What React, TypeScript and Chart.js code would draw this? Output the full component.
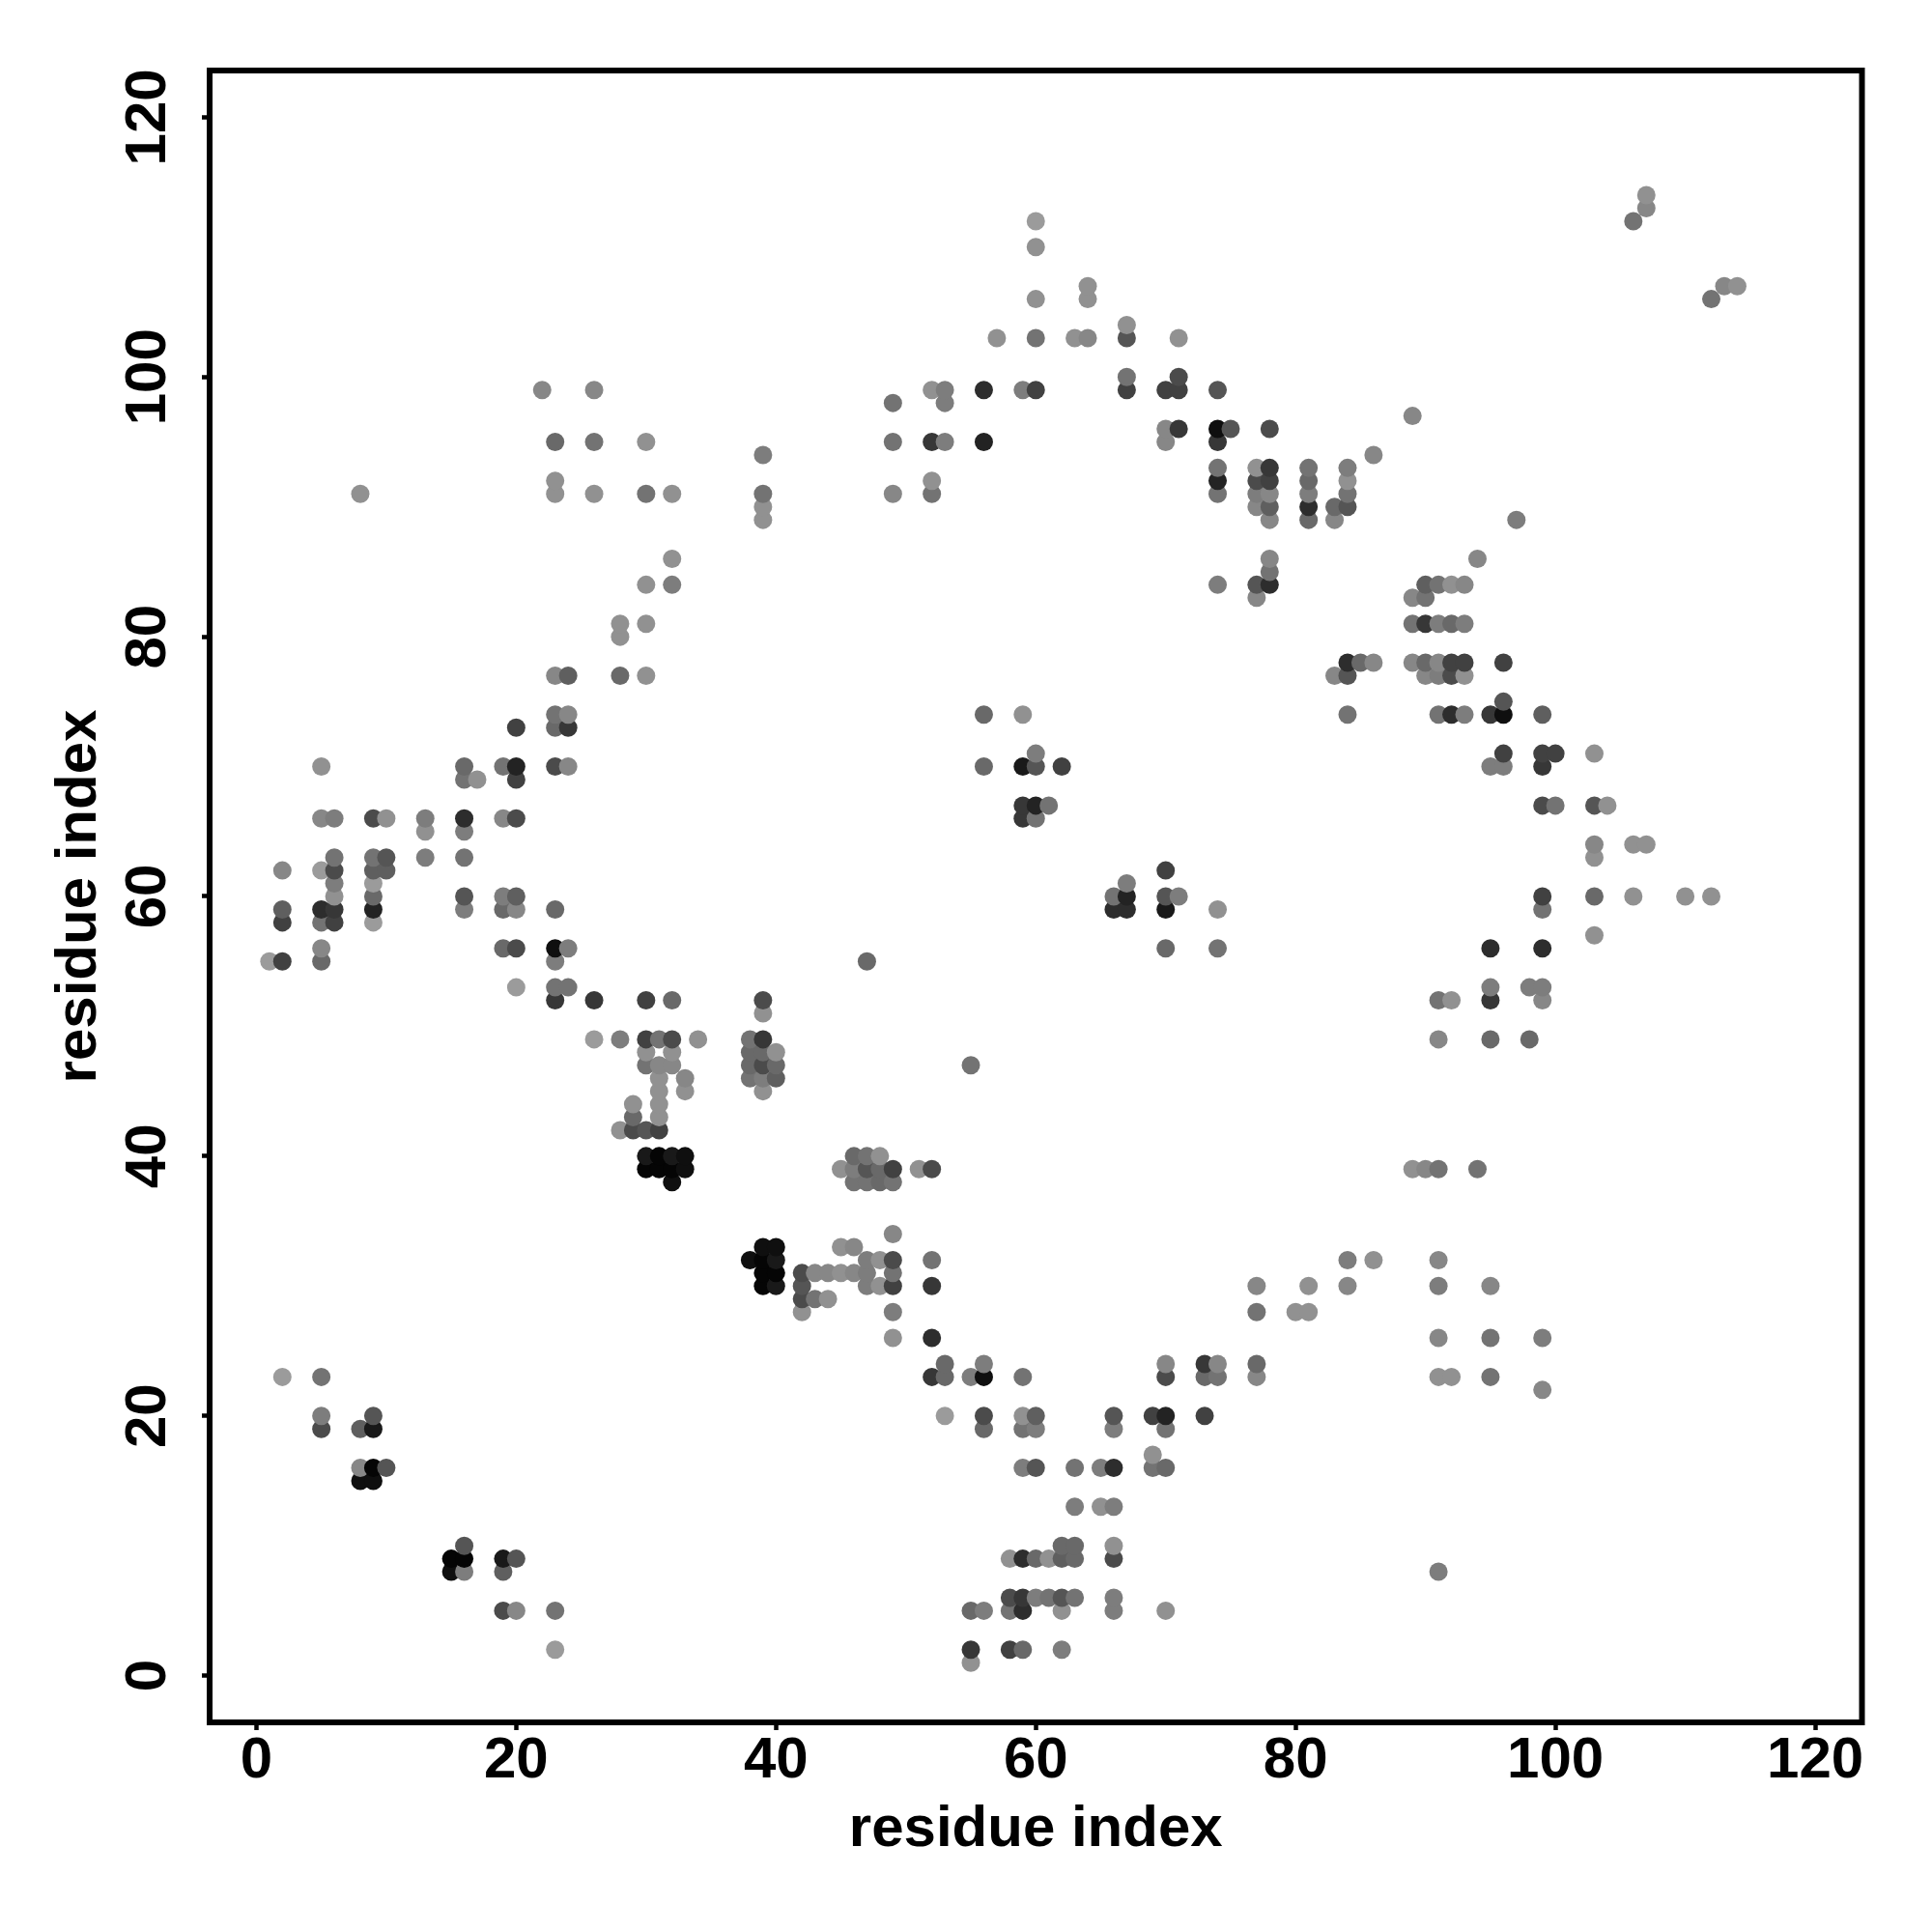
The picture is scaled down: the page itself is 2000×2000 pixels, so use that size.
import React, { useEffect, useRef } from "react";
import { Chart, registerables } from "chart.js";

Chart.register(...registerables);

// Each contact is [residue i, residue j, shade]; shade runs from 0 (black) to 15 (lightest grey).
type Contact = [number, number, number];

const contacts0to19: Contact[] = [
  [1,55,15],
  [2,23,15],[2,55,6],[2,58,6],[2,59,9],[2,62,13],
  [5,19,7],[5,20,12],[5,23,11],[5,55,10],[5,56,13],[5,58,11],[5,59,4],[5,62,15],[5,66,13],[5,70,14],
  [6,58,6],[6,59,5],[6,60,14],[6,61,12],[6,62,7],[6,63,11],[6,66,12],
  [8,15,1],[8,16,13],[8,19,9],[8,91,14],
  [9,15,1],[9,16,0],[9,19,2],[9,20,8],[9,58,15],[9,59,3],[9,60,10],[9,61,15],[9,62,9],[9,63,11],[9,66,7],
  [10,16,8],[10,62,9],[10,63,8],[10,66,14],
  [13,63,12],[13,65,14],[13,66,12],
  [15,8,1],[15,9,0],
  [16,8,12],[16,9,0],[16,10,8],[16,59,12],[16,60,8],[16,63,11],[16,65,12],[16,66,4],[16,69,11],[16,70,10],
  [17,69,14],
  [19,5,7],[19,8,9],[19,9,2],[19,56,10],[19,59,10],[19,60,12],[19,66,13],[19,70,11],
];

const contacts20to39: Contact[] = [
  [20,5,13],[20,9,8],[20,53,15],[20,56,7],[20,59,13],[20,60,9],[20,66,7],[20,69,6],[20,70,3],[20,73,6],
  [22,99,13],
  [23,2,15],[23,5,11],[23,52,5],[23,53,11],[23,55,12],[23,56,1],[23,59,10],[23,70,7],[23,73,10],[23,74,11],[23,77,13],[23,91,14],[23,92,14],[23,95,10],
  [24,53,11],[24,56,12],[24,70,13],[24,73,5],[24,74,13],[24,77,9],
  [26,49,15],[26,52,5],[26,91,14],[26,95,11],[26,99,13],
  [28,42,14],[28,49,12],[28,77,10],[28,80,14],[28,81,14],
  [29,42,7],[29,43,10],[29,44,14],
  [30,39,0],[30,40,2],[30,42,8],[30,47,11],[30,48,14],[30,49,6],[30,52,6],[30,77,14],[30,81,14],[30,84,14],[30,91,11],[30,95,14],
  [31,39,0],[31,40,0],[31,42,6],[31,43,14],[31,44,14],[31,45,14],[31,46,14],[31,47,13],[31,49,11],
  [32,38,1],[32,39,0],[32,40,2],[32,47,13],[32,48,14],[32,49,7],[32,52,10],[32,84,12],[32,86,14],[32,91,14],
  [33,39,1],[33,40,1],[33,45,14],[33,46,13],
  [34,49,14],
  [38,32,1],[38,46,11],[38,47,10],[38,48,10],[38,49,11],
  [39,30,0],[39,31,0],[39,32,0],[39,33,1],[39,45,14],[39,46,12],[39,47,7],[39,48,10],[39,49,5],[39,51,14],[39,52,7],[39,89,14],[39,90,14],[39,91,11],[39,94,12],
];

const contacts40to59: Contact[] = [
  [40,30,2],[40,31,0],[40,32,2],[40,33,1],[40,46,9],[40,47,10],[40,48,14],
  [42,28,14],[42,29,7],[42,30,8],[42,31,7],
  [43,29,11],[43,31,13],
  [44,29,14],[44,31,13],
  [45,31,14],[45,33,14],[45,39,14],
  [46,31,13],[46,33,13],[46,38,11],[46,39,12],[46,40,10],
  [47,30,12],[47,31,12],[47,32,12],[47,38,11],[47,39,8],[47,40,11],[47,55,10],
  [48,30,14],[48,32,14],[48,38,10],[48,39,10],[48,40,14],
  [49,26,14],[49,28,12],[49,30,6],[49,31,11],[49,32,7],[49,34,13],[49,38,11],[49,39,6],[49,91,13],[49,95,11],[49,98,11],
  [51,39,14],
  [52,23,5],[52,26,4],[52,30,5],[52,32,11],[52,39,7],[52,91,11],[52,92,14],[52,95,5],[52,99,14],
  [53,20,15],[53,23,10],[53,24,10],[53,95,12],[53,98,12],[53,99,12],
  [55,1,14],[55,2,5],[55,5,10],[55,23,12],[55,47,11],
  [56,5,12],[56,19,10],[56,20,7],[56,23,1],[56,24,12],[56,70,10],[56,74,10],[56,95,3],[56,99,4],
  [57,103,14],
  [58,2,6],[58,5,11],[58,6,7],[58,9,14],
  [59,2,10],[59,5,4],[59,6,5],[59,9,4],[59,16,12],[59,19,11],[59,20,14],[59,23,11],[59,66,5],[59,67,5],[59,70,2],[59,74,14],[59,99,12],
];

const contacts60to79: Contact[] = [
  [60,6,12],[60,9,10],[60,16,8],[60,19,12],[60,20,9],[60,66,11],[60,67,3],[60,70,8],[60,71,12],[60,99,6],[60,103,11],[60,106,14],[60,110,14],[60,112,15],
  [61,6,11],[61,9,14],[61,67,11],
  [62,2,12],[62,5,14],[62,6,8],[62,9,9],[62,10,10],[62,70,6],
  [63,6,11],[63,9,10],[63,10,10],[63,13,12],[63,16,11],[63,103,14],
  [64,103,13],[64,106,14],[64,107,14],
  [65,13,14],[65,16,12],
  [66,5,12],[66,6,12],[66,9,7],[66,10,14],[66,13,12],[66,16,4],[66,19,12],[66,20,8],[66,59,4],[66,60,11],
  [67,59,4],[67,60,3],[67,61,12],[67,99,6],[67,100,11],[67,103,8],[67,104,14],
  [69,16,11],[69,17,14],[69,20,6],
  [70,5,14],[70,16,10],[70,19,11],[70,20,3],[70,23,7],[70,24,13],[70,56,10],[70,59,2],[70,60,8],[70,62,6],[70,95,13],[70,96,13],[70,99,6],
  [71,60,12],[71,96,5],[71,99,6],[71,100,7],[71,103,14],
  [73,20,6],[73,23,10],[73,24,5],
  [74,23,11],[74,24,13],[74,56,11],[74,59,14],[74,84,12],[74,91,11],[74,92,3],[74,93,11],[74,95,5],[74,96,1],[74,99,8],
  [75,96,8],
  [77,23,13],[77,24,10],[77,28,11],[77,30,13],[77,83,13],[77,84,8],[77,90,13],[77,91,12],[77,92,7],[77,93,14],
  [78,84,4],[78,85,11],[78,86,13],[78,89,13],[78,90,9],[78,91,13],[78,92,6],[78,93,5],[78,96,7],
];

const contacts80to114: Contact[] = [
  [80,28,14],
  [81,28,14],[81,30,14],[81,89,10],[81,90,4],[81,91,12],[81,92,10],[81,93,11],
  [83,77,13],[83,89,13],[83,90,10],
  [84,30,13],[84,32,12],[84,74,11],[84,77,8],[84,78,4],[84,90,8],[84,91,11],[84,92,14],[84,93,12],
  [85,78,10],
  [86,32,14],[86,78,13],[86,94,13],
  [89,39,14],[89,78,13],[89,81,11],[89,83,13],[89,97,13],
  [90,39,13],[90,77,13],[90,78,10],[90,81,5],[90,83,11],[90,84,9],
  [91,8,12],[91,23,14],[91,26,13],[91,30,12],[91,32,13],[91,39,11],[91,49,13],[91,52,11],[91,74,11],[91,77,12],[91,78,13],[91,81,12],[91,84,11],
  [92,23,14],[92,52,14],[92,74,4],[92,77,7],[92,78,6],[92,81,10],[92,84,14],
  [93,74,12],[93,77,14],[93,78,6],[93,81,12],[93,84,13],
  [94,39,11],[94,86,13],
  [95,23,11],[95,26,11],[95,30,13],[95,49,10],[95,52,5],[95,53,12],[95,56,4],[95,70,12],[95,74,5],
  [96,70,12],[96,71,6],[96,74,1],[96,75,8],[96,78,6],
  [97,89,12],
  [98,49,10],[98,53,12],
  [99,22,13],[99,26,12],[99,52,13],[99,53,12],[99,56,4],[99,59,11],[99,60,6],[99,67,7],[99,70,5],[99,71,6],[99,74,9],
  [100,67,11],[100,71,6],
  [103,57,14],[103,60,10],[103,63,14],[103,64,13],[103,67,8],[103,71,14],
  [104,67,14],
  [106,60,14],[106,64,14],[106,112,11],
  [107,64,14],[107,113,13],[107,114,14],
  [110,60,14],
  [112,60,14],[112,106,11],
  [113,107,13],
  [114,107,14],
];

const tickValues = [0, 20, 40, 60, 80, 100, 120];
const axisLabel = "residue index";

const FONT = '"Liberation Sans", Arial, sans-serif';
const contacts = [...contacts0to19, ...contacts20to39, ...contacts40to59, ...contacts60to79, ...contacts80to114];
const greyOf = (shade: number) => {
  const g = shade * 10 + 5;
  return `rgb(${g},${g},${g})`;
};

const framePlugin = {
  id: "frame",
  afterDatasetsDraw(chart: any) {
    const { ctx, chartArea: a } = chart;
    ctx.save();
    ctx.strokeStyle = "#000";
    ctx.lineWidth = 6;
    ctx.lineJoin = "miter";
    ctx.strokeRect(a.left, a.top, a.right - a.left, a.bottom - a.top);
    ctx.restore();
  },
};

const setTicks = (scale: any) => {
  scale.ticks = tickValues.map((value) => ({ value }));
};

export default function App() {
  const ref = useRef<HTMLCanvasElement>(null);
  useEffect(() => {
    if (!ref.current) return;
    const chart = new Chart(ref.current, {
      type: "scatter",
      data: {
        datasets: [
          {
            data: contacts.map(([x, y]) => ({ x, y })),
            backgroundColor: contacts.map(([, , s]) => greyOf(s)),
            borderWidth: 0,
            pointRadius: 9.5,
            pointHoverRadius: 9.5,
          },
        ],
      },
      options: {
        animation: false,
        responsive: false,
        devicePixelRatio: 1,
        layout: { padding: { top: 73, right: 72.5, left: 0, bottom: 0 } },
        plugins: { legend: { display: false }, tooltip: { enabled: false } },
        scales: {
          x: {
            type: "linear",
            min: -3.6,
            max: 123.6,
            afterBuildTicks: setTicks,
            afterFit: (s: any) => {
              s.height = 217;
            },
            border: { display: false },
            grid: { drawOnChartArea: false, drawTicks: true, tickLength: 8, tickWidth: 4.5, tickColor: "#000" },
            ticks: {
              autoSkip: false,
              includeBounds: false,
              maxRotation: 0,
              padding: -4,
              color: "#000",
              font: { family: FONT, weight: "bold", size: 60 },
            },
            title: {
              display: true,
              text: axisLabel,
              color: "#000",
              font: { family: FONT, weight: "bold", size: 60 },
              padding: { top: 0, bottom: 70 },
            },
          },
          y: {
            type: "linear",
            min: -3.6,
            max: 123.6,
            afterBuildTicks: setTicks,
            afterFit: (s: any) => {
              s.width = 217;
            },
            border: { display: false },
            grid: { drawOnChartArea: false, drawTicks: true, tickLength: 8, tickWidth: 4.5, tickColor: "#000" },
            ticks: {
              autoSkip: false,
              includeBounds: false,
              minRotation: 90,
              maxRotation: 90,
              crossAlign: "center",
              padding: 4,
              color: "#000",
              font: { family: FONT, weight: "bold", size: 60 },
            },
            title: {
              display: true,
              text: axisLabel,
              color: "#000",
              font: { family: FONT, weight: "bold", size: 60 },
              padding: { top: 46, bottom: 0 },
            },
          },
        },
      } as any,
      plugins: [framePlugin],
    });
    return () => chart.destroy();
  }, []);
  return (
    <canvas
      ref={ref}
      width={2000}
      height={2000}
      style={{ position: "absolute", left: 0, top: 0, width: 2000, height: 2000, display: "block" }}
    />
  );
}
